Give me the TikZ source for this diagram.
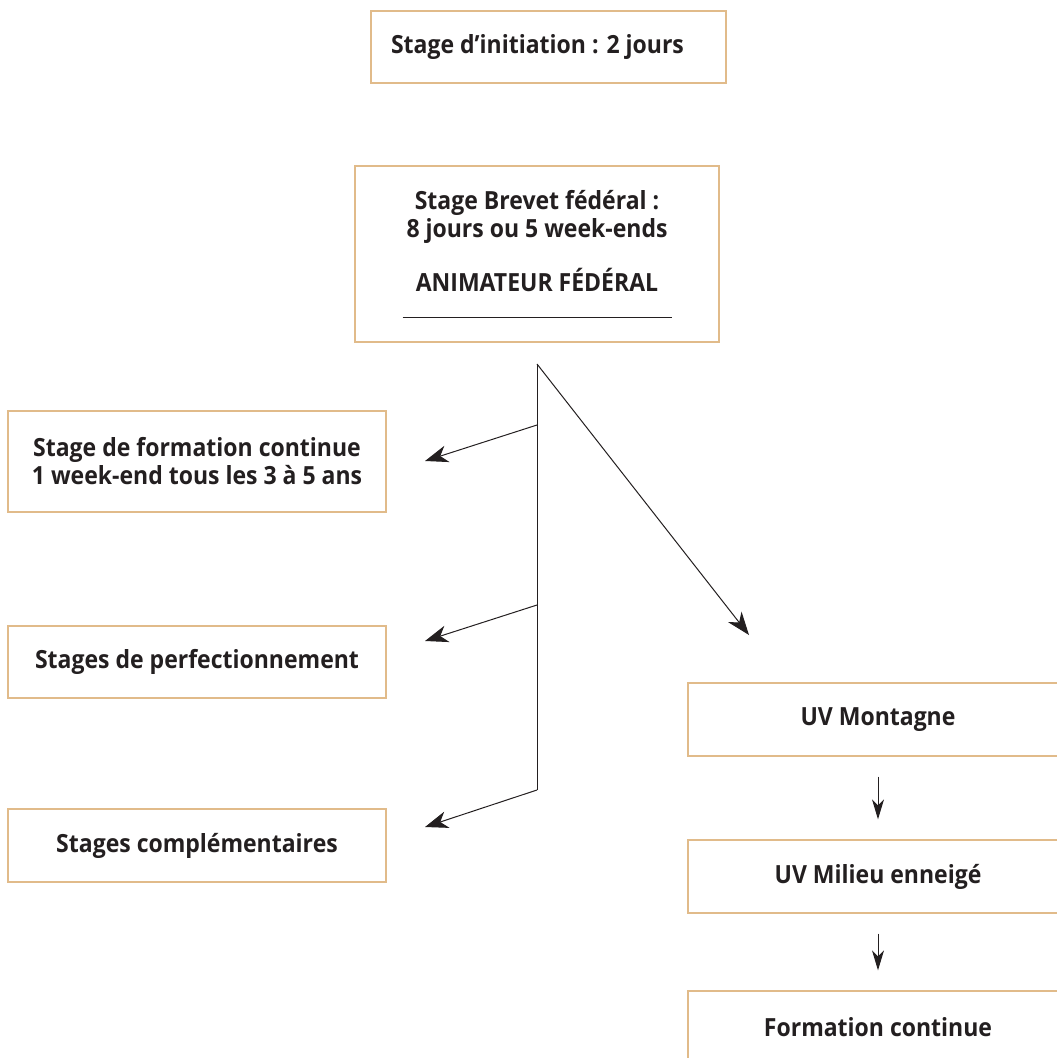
\documentclass[tikz,border=0pt]{standalone}
\usepackage{fontspec}
\setmainfont{Open Sans}[FakeStretch=0.92]
\usetikzlibrary{arrows.meta}
\definecolor{boxline}{RGB}{225,187,138}
\definecolor{ink}{RGB}{35,31,32}
\tikzset{
  box/.style  = {draw=boxline, line width=1.3pt, inner sep=0pt, align=center,
                 text=ink, font=\bfseries\fontsize{25}{28}\selectfont},
  wide/.style = {box, minimum width=378pt},
  wire/.style = {line width=1pt, ink},
  vec/.style  = {wire, -{Stealth[length=23pt,width=17pt,inset=7pt]}},
  dvec/.style = {wire, -{Stealth[length=20pt,width=12pt,inset=6pt]},
                 shorten <=20pt, shorten >=20pt},
}
\begin{document}
\begin{tikzpicture}[x=1pt,y=-1pt]
  \useasboundingbox (0,0) rectangle (1057,1058);

  \node[box, minimum width=355pt, minimum height=72pt] (init) at (548.5,47)
       {Stage d’initiation : 2 jours\hspace*{22pt}};
  \node[box, minimum width=364pt, minimum height=176pt] (brevet) at (537,254)
       {Stage Brevet fédéral :\\8 jours ou 5 week-ends\\[24pt]
        ANIMATEUR FÉDÉRAL\\[-2pt]\rule{269pt}{1.2pt}};

  % left column
  \node[wide, minimum height=101pt] (contin) at (197,461.5)
       {Stage de formation continue\\1 week-end tous les 3 à 5 ans};
  \node[wide, minimum height=72pt] (perf) at (197,662) {Stages de perfectionnement};
  \node[wide, minimum height=73pt] (compl) at (197,845.5) {Stages complémentaires};

  % right column (runs off the page)
  \node[box, minimum width=380pt, minimum height=73pt] (uvmont) at (878,719.5) {UV Montagne};
  \node[box, minimum width=380pt, minimum height=73pt] (uvneige) at (878,876.5) {UV Milieu enneigé};
  \node[box, minimum width=380pt, minimum height=73pt] (formcont) at (878,1027.5) {Formation continue};

  % the fork under the brevet box
  \coordinate (fork) at (537,364);
  \coordinate (b1) at (537,425);
  \coordinate (b2) at (537,605);
  \coordinate (b3) at (537,790);
  \coordinate (t1) at (425,461);
  \coordinate (t2) at (425,641);
  \coordinate (t3) at (425,827);
  \coordinate (t4) at (749,635);

  \draw[wire] (fork) -- (b3);
  \draw[vec] (b1) -- (t1);
  \draw[vec] (b2) -- (t2);
  \draw[vec] (b3) -- (t3);
  \draw[vec] (fork) -- (t4);

  \draw[dvec] (uvmont.south) -- (uvneige.north);
  \draw[dvec] (uvneige.south) -- (formcont.north);
\end{tikzpicture}
\end{document}
